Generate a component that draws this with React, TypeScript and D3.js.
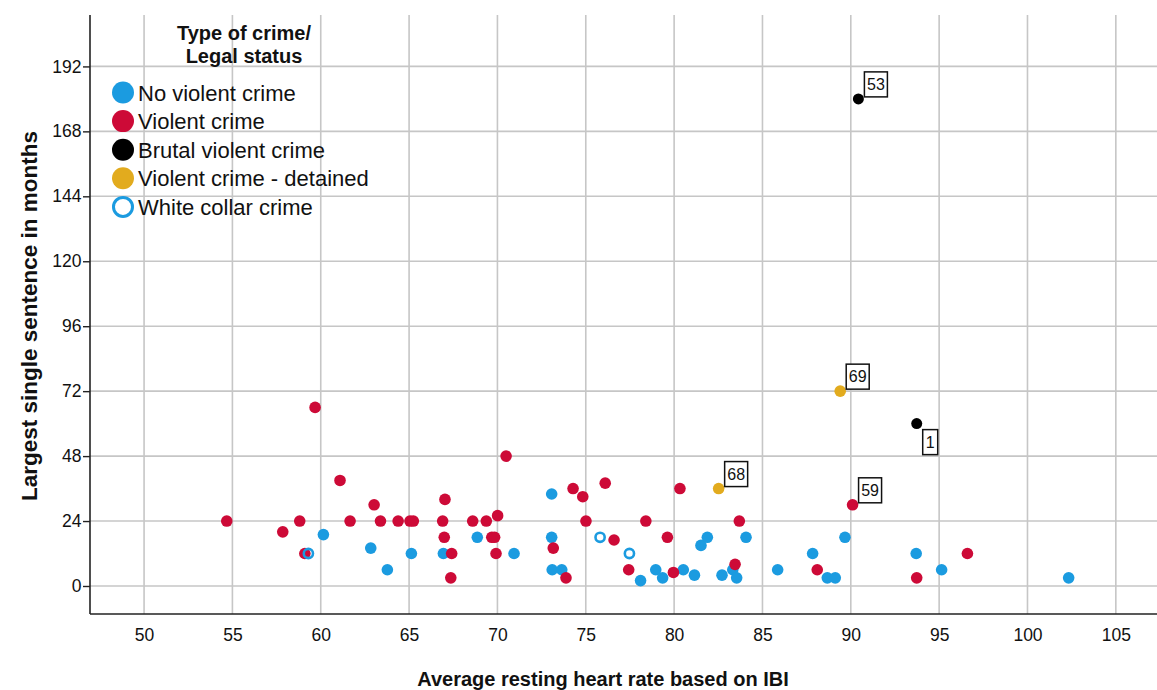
import React, { useEffect, useRef } from "react";
import * as d3 from "d3";

// [heart rate, sentence in months]
const noViolent = [
  [60.15, 19], [62.83, 14], [63.77, 6], [65.13, 12], [66.94, 12], [68.86, 18],
  [70.94, 12], [73.07, 34], [73.07, 18], [73.1, 6], [73.64, 6], [78.1, 2],
  [78.96, 6], [79.35, 3], [80.52, 6], [81.15, 4], [81.52, 15], [81.88, 18],
  [82.71, 4], [83.32, 6], [83.54, 3], [84.07, 18], [85.86, 6], [87.84, 12],
  [88.67, 3], [89.12, 3], [89.67, 18], [93.7, 12], [95.14, 6], [102.33, 3],
];
const violent = [
  [54.68, 24], [57.85, 20], [58.81, 24], [59.1, 12], [59.68, 66], [61.09, 39],
  [61.66, 24], [63.02, 30], [63.38, 24], [64.38, 24], [65.05, 24], [65.24, 24],
  [66.9, 24], [67.03, 32], [66.99, 18], [67.41, 12], [67.36, 3], [68.6, 24],
  [69.37, 24], [70.01, 26], [69.68, 18], [69.84, 18], [69.92, 12], [70.49, 48],
  [73.16, 14], [73.88, 3], [74.28, 36], [74.83, 33], [75.01, 24], [76.1, 38],
  [76.6, 17], [77.43, 6], [78.4, 24], [79.62, 18], [79.96, 5], [80.33, 36],
  [83.45, 8], [83.69, 24], [88.1, 6], [90.1, 30], [93.73, 3], [96.6, 12],
];
const brutal = [[90.43, 180], [93.73, 60]];
const detained = [[82.52, 36], [89.4, 72]];
const whiteCollar = [[59.3, 12], [75.81, 18], [77.47, 12]];

const caseLabels = [
  { id: "53", x: 90.43, y: 180, below: false },
  { id: "69", x: 89.4, y: 72, below: false },
  { id: "68", x: 82.52, y: 36, below: false },
  { id: "59", x: 90.1, y: 30, below: false },
  { id: "1", x: 93.73, y: 60, below: true },
];

const xTicks = [50, 55, 60, 65, 70, 75, 80, 85, 90, 95, 100, 105];
const yTicks = [0, 24, 48, 72, 96, 120, 144, 168, 192];

const legendItems = [
  { name: "No violent crime", color: "#1b9be0", hollow: false },
  { name: "Violent crime", color: "#cd0a37", hollow: false },
  { name: "Brutal violent crime", color: "#000000", hollow: false },
  { name: "Violent crime - detained", color: "#e2ab1e", hollow: false },
  { name: "White collar crime", color: "#1b9be0", hollow: true },
];

const FONT = "'Liberation Sans', Arial, Helvetica, sans-serif";

const App = () => {
  const ref = useRef(null);

  useEffect(() => {
    const width = 1157;
    const height = 690;
    const margin = { top: 15, right: 0, bottom: 76, left: 90 };

    d3.select(ref.current).select("svg").remove();
    const svg = d3
      .select(ref.current)
      .append("svg")
      .attr("width", width)
      .attr("height", height)
      .style("font-family", FONT)
      .style("display", "block");

    const x = d3
      .scaleLinear()
      .domain([46.94, 107.33])
      .range([margin.left, width - margin.right]);
    const y = d3
      .scaleLinear()
      .domain([-10.35, 211])
      .range([height - margin.bottom, margin.top]);

    const grid = svg.append("g").attr("stroke", "#c6c6c6").attr("stroke-width", 1.6);
    grid
      .selectAll("line.v")
      .data(xTicks)
      .join("line")
      .attr("x1", (d) => x(d))
      .attr("x2", (d) => x(d))
      .attr("y1", margin.top)
      .attr("y2", height - margin.bottom);
    grid
      .selectAll("line.h")
      .data(yTicks)
      .join("line")
      .attr("class", "h")
      .attr("x1", margin.left)
      .attr("x2", width)
      .attr("y1", (d) => y(d))
      .attr("y2", (d) => y(d));

    // axes
    const yAxis = svg
      .append("g")
      .attr("transform", `translate(${margin.left},0)`)
      .call(d3.axisLeft(y).tickValues(yTicks).tickSize(7).tickPadding(1.5));
    const xAxis = svg
      .append("g")
      .attr("transform", `translate(0,${height - margin.bottom})`)
      .call(d3.axisBottom(x).tickValues(xTicks).tickSize(0).tickPadding(15));
    [yAxis, xAxis].forEach((g) => {
      g.select(".domain").attr("stroke", "#222").attr("stroke-width", 1.6);
      g.selectAll(".tick line").attr("stroke", "#222").attr("stroke-width", 1.4);
      g.selectAll("text")
        .attr("fill", "#111")
        .style("font-size", "17.5px")
        .style("font-family", FONT);
    });
    yAxis.select(".domain").attr("d", `M0,${margin.top}V${height - margin.bottom}`);
    xAxis.select(".domain").attr("d", `M${margin.left},0H${width}`);

    svg
      .append("text")
      .attr("x", 603)
      .attr("y", 686)
      .attr("text-anchor", "middle")
      .style("font-size", "20px")
      .style("font-weight", "bold")
      .attr("fill", "#111")
      .text("Average resting heart rate based on IBI");
    svg
      .append("text")
      .attr("transform", "translate(37,316) rotate(-90)")
      .attr("text-anchor", "middle")
      .style("font-size", "22.5px")
      .style("font-weight", "bold")
      .attr("fill", "#111")
      .text("Largest single sentence in months");

    const drawDots = (data, color, r) => {
      svg
        .append("g")
        .selectAll("circle")
        .data(data)
        .join("circle")
        .attr("cx", (d) => x(d[0]))
        .attr("cy", (d) => y(d[1]))
        .attr("r", r)
        .attr("fill", color);
    };
    drawDots(noViolent, legendItems[0].color, 5.8);
    drawDots(violent, legendItems[1].color, 5.8);
    drawDots(brutal, legendItems[2].color, 5.5);
    drawDots(detained, legendItems[3].color, 5.8);
    svg
      .append("g")
      .selectAll("circle")
      .data(whiteCollar)
      .join("circle")
      .attr("cx", (d) => x(d[0]))
      .attr("cy", (d) => y(d[1]))
      .attr("r", 4.6)
      .attr("fill", "none")
      .attr("stroke", legendItems[4].color)
      .attr("stroke-width", 2.6);

    // case labels
    const lab = svg.append("g");
    caseLabels.forEach((c) => {
      const w = c.id.length > 1 ? 23 : 15;
      const h = 25;
      const px = x(c.x) + 6;
      const py = c.below ? y(c.y) + 6 : y(c.y) - 2 - h;
      lab
        .append("rect")
        .attr("x", px)
        .attr("y", py)
        .attr("width", w)
        .attr("height", h)
        .attr("fill", "#fff")
        .attr("stroke", "#111")
        .attr("stroke-width", 1.5);
      lab
        .append("text")
        .attr("x", px + w / 2)
        .attr("y", py + h / 2 + 5.8)
        .attr("text-anchor", "middle")
        .style("font-size", "16px")
        .attr("fill", "#111")
        .text(c.id);
    });

    // legend
    const lg = svg.append("g");
    ["Type of crime/", "Legal status"].forEach((t, i) => {
      lg.append("text")
        .attr("x", 244)
        .attr("y", 40 + i * 23)
        .attr("text-anchor", "middle")
        .style("font-size", "20px")
        .style("font-weight", "bold")
        .attr("fill", "#111")
        .text(t);
    });
    legendItems.forEach((item, i) => {
      const cy = 92.5 + i * 28.6;
      lg.append("circle")
        .attr("cx", 123)
        .attr("cy", cy)
        .attr("r", item.hollow ? 9.5 : 11)
        .attr("fill", item.hollow ? "#fff" : item.color)
        .attr("stroke", item.hollow ? item.color : "none")
        .attr("stroke-width", item.hollow ? 3 : 0);
      lg.append("text")
        .attr("x", 138)
        .attr("y", cy + 8)
        .style("font-size", "22px")
        .attr("fill", "#111")
        .text(item.name);
    });
  }, []);

  return (
    <div
      ref={ref}
      style={{ position: "absolute", left: 0, top: 0, width: 1157, height: 690, background: "#fff" }}
    />
  );
};

export default App;
